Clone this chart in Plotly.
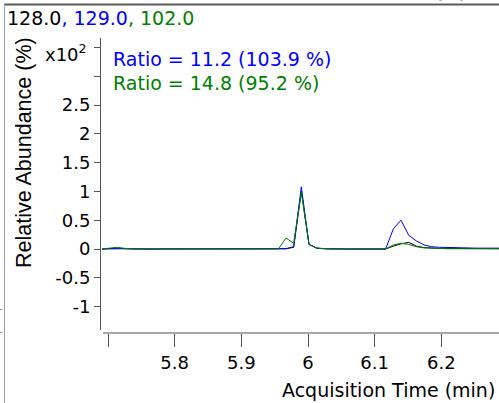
import plotly.graph_objects as go

# Acquisition time (min)
times = [5.6910, 5.7025, 5.7140, 5.7255, 5.7370, 5.7485, 5.7600, 5.7715, 5.7830, 5.7945,
         5.8060, 5.8175, 5.8290, 5.8405, 5.8520, 5.8635, 5.8750, 5.8865, 5.8980, 5.9095,
         5.9210, 5.9325, 5.9440, 5.9555, 5.9670, 5.9785, 5.9900, 6.0015, 6.0130, 6.0245,
         6.0360, 6.0475, 6.0590, 6.0705, 6.0820, 6.0935, 6.1050, 6.1165, 6.1280, 6.1395,
         6.1510, 6.1625, 6.1740, 6.1855, 6.1970, 6.2085, 6.2200, 6.2315, 6.2430, 6.2545,
         6.2660, 6.2775, 6.2890]

# Relative abundance (x10^2 %)
black_128 = [0.0, 0.005, 0.015, 0.005, 0.0, 0.0, 0.0, 0.0, 0.0, 0.0,
             0.0, 0.0, 0.0, 0.0, 0.0, 0.0, 0.005, 0.01, 0.005, 0.0,
             0.0, 0.0, 0.0, 0.0, 0.005, 0.03, 1.0, 0.08, 0.015, 0.005,
             0.0, 0.0, 0.0, 0.0, 0.0, 0.0, 0.0, 0.0, 0.05, 0.09,
             0.115, 0.05, 0.025, 0.015, 0.01, 0.01, 0.01, 0.005, 0.005, 0.005,
             0.005, 0.005, 0.005]
blue_129 = [0.0, 0.005, 0.01, 0.005, 0.0, 0.0, 0.0, 0.0, 0.0, 0.0,
            0.0, 0.0, 0.0, 0.0, 0.0, 0.0, 0.005, 0.01, 0.005, 0.0,
            0.0, 0.0, 0.0, 0.0, 0.005, 0.04, 1.08, 0.08, 0.015, 0.005,
            0.0, 0.0, 0.0, 0.0, 0.0, 0.0, 0.0, 0.0, 0.35, 0.50,
            0.24, 0.14, 0.07, 0.04, 0.03, 0.025, 0.02, 0.02, 0.02, 0.015,
            0.015, 0.015, 0.015]
green_102 = [0.0, 0.01, 0.03, 0.01, 0.0, 0.0, 0.0, 0.0, 0.0, 0.0,
             0.0, 0.0, 0.0, 0.0, 0.0, 0.0, 0.005, 0.01, 0.005, 0.0,
             0.0, 0.0, 0.0, 0.0, 0.19, 0.10, 0.99, 0.08, 0.015, 0.005,
             0.0, 0.0, 0.0, 0.0, 0.0, 0.0, 0.0, 0.0, 0.07, 0.10,
             0.08, 0.04, 0.02, 0.01, 0.01, 0.005, 0.005, 0.005, 0.005, 0.005,
             0.005, 0.005, 0.005]

y_tickvals = [-1, -0.5, 0, 0.5, 1, 1.5, 2, 2.5]
y_ticktext = ["-1", "-0.5", "0", "0.5", "1", "1.5", "2", "2.5"]
y_unlabeled_ticks = [3, 3.5]
x_tickvals = [5.8, 5.9, 6.0, 6.1, 6.2]
x_ticktext = ["5.8", "5.9", "6", "6.1", "6.2"]
x_unlabeled_ticks = [5.7]

title_parts = [("128.0", "#000000"), (", 129.0", "#0000FF"), (", 102.0", "#008000")]
ratio_lines = [("Ratio = 11.2 (103.9 %)", "#0000FF"), ("Ratio = 14.8 (95.2 %)", "#008000")]

W, H = 499, 403
L, R, T, B = 101, 0, 38, 70
PW, PH = W - L - R, H - T - B

def px(x):
    return (x - L) / PW

def py(y):
    return (H - B - y) / PH

fig = go.Figure()
for vals, col in [(black_128, "#000000"), (blue_129, "#0000FF"), (green_102, "#008000")]:
    fig.add_trace(go.Scatter(x=times, y=vals, mode="lines",
                             line=dict(color=col, width=1), showlegend=False,
                             hoverinfo="skip"))

tick_font = dict(family="DejaVu Sans", size=18, color="#000000")

fig.update_layout(
    width=W, height=H,
    margin=dict(l=L, r=R, t=T, b=B),
    paper_bgcolor="white", plot_bgcolor="white",
    showlegend=False,
    xaxis=dict(range=[5.6895, 6.2865], tickvals=x_tickvals, ticktext=x_ticktext,
               ticks="outside", ticklen=13, tickcolor="#555555", tickwidth=1,
               minor=dict(tickvals=x_unlabeled_ticks, ticks="outside", ticklen=13,
                          tickcolor="#555555", tickwidth=1, showgrid=False),
               showline=False, showgrid=False, zeroline=False, tickfont=tick_font,
               title=None),
    yaxis=dict(range=[-1.458, 3.663], tickvals=y_tickvals, ticktext=y_ticktext,
               ticks="outside", ticklen=6, tickcolor="#555555", tickwidth=1,
               minor=dict(tickvals=y_unlabeled_ticks, ticks="outside", ticklen=6,
                          tickcolor="#555555", tickwidth=1, showgrid=False),
               showline=False, showgrid=False, zeroline=False, tickfont=tick_font,
               title=None),
)

shapes = [
    # y axis line
    dict(type="line", xref="paper", yref="paper", x0=px(100.5), x1=px(100.5),
         y0=py(38), y1=py(330), line=dict(color="#555555", width=1)),
    # x axis line
    dict(type="line", xref="paper", yref="paper", x0=px(103), x1=px(499),
         y0=py(333), y1=py(333), line=dict(color="#555555", width=1)),
    # outer frame top
    dict(type="line", xref="paper", yref="paper", x0=px(4), x1=px(499),
         y0=py(4.5), y1=py(4.5), line=dict(color="#5a5a5a", width=2)),
    # outer frame left
    dict(type="line", xref="paper", yref="paper", x0=px(4.5), x1=px(4.5),
         y0=py(4), y1=py(403), line=dict(color="#a0a0a0", width=1)),
    # small neighbour marks
    dict(type="line", xref="paper", yref="paper", x0=px(0), x1=px(2.5),
         y0=py(309.5), y1=py(309.5), line=dict(color="#a0a0a0", width=1)),
    dict(type="line", xref="paper", yref="paper", x0=px(0), x1=px(2.5),
         y0=py(332.5), y1=py(332.5), line=dict(color="#a0a0a0", width=1)),
    dict(type="line", xref="paper", yref="paper", x0=px(439), x1=px(442),
         y0=py(0), y1=py(1), line=dict(color="#b0b0b0", width=1)),
    dict(type="line", xref="paper", yref="paper", x0=px(460), x1=px(463),
         y0=py(0), y1=py(1), line=dict(color="#b0b0b0", width=1)),
]
fig.update_layout(shapes=shapes)

title_html = "".join(f"<span style='color:{c}'>{t}</span>" for t, c in title_parts)
annotations = [
    dict(text=title_html, xref="paper", yref="paper", x=px(5), y=py(18),
         xanchor="left", yanchor="middle", showarrow=False,
         font=dict(family="DejaVu Sans", size=19)),
    dict(text="x10<sup>2</sup>", xref="paper", yref="paper", x=px(89), y=py(53),
         xanchor="right", yanchor="middle", showarrow=False,
         font=tick_font),
    dict(text="Relative Abundance (%)", xref="paper", yref="paper", x=px(24), y=py(153),
         xanchor="center", yanchor="middle", textangle=-90, showarrow=False,
         font=dict(family="Liberation Sans", size=21.5, color="#000000")),
    dict(text="Acquisition Time (min)", xref="paper", yref="paper", x=px(497), y=py(390),
         xanchor="right", yanchor="middle", showarrow=False,
         font=dict(family="DejaVu Sans", size=19, color="#000000")),
]
for i, (t, c) in enumerate(ratio_lines):
    annotations.append(dict(text=t, xref="paper", yref="paper", x=px(111), y=py(59 + 24 * i),
                            xanchor="left", yanchor="middle", showarrow=False,
                            font=dict(family="DejaVu Sans", size=19, color=c)))
fig.update_layout(annotations=annotations)

fig.write_html("out.html", config={"displayModeBar": False},
               post_script="document.body.style.margin='0';document.body.style.overflow='hidden';")
